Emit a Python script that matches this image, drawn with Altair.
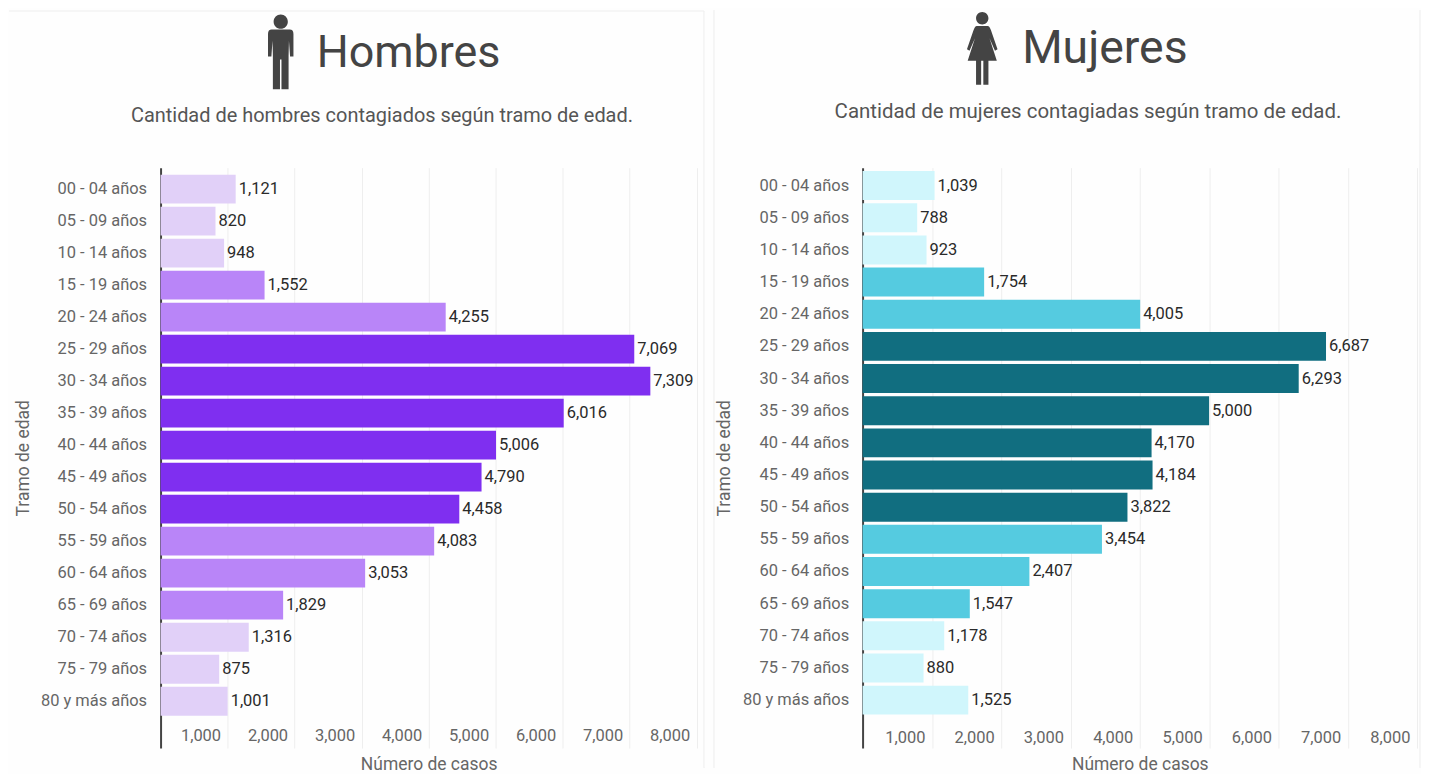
import altair as alt
import pandas as pd

grupos = ["00 - 04 años", "05 - 09 años", "10 - 14 años", "15 - 19 años", "20 - 24 años",
          "25 - 29 años", "30 - 34 años", "35 - 39 años", "40 - 44 años", "45 - 49 años",
          "50 - 54 años", "55 - 59 años", "60 - 64 años", "65 - 69 años", "70 - 74 años",
          "75 - 79 años", "80 y más años"]
hombres = [1121, 820, 948, 1552, 4255, 7069, 7309, 6016, 5006, 4790, 4458, 4083, 3053, 1829, 1316, 875, 1001]
mujeres = [1039, 788, 923, 1754, 4005, 6687, 6293, 5000, 4170, 4184, 3822, 3454, 2407, 1547, 1178, 880, 1525]
tramos = ["bajo", "bajo", "bajo", "medio", "medio", "alto", "alto", "alto", "alto", "alto", "alto",
          "medio", "medio", "medio", "bajo", "bajo", "bajo"]
xticks = [1000, 2000, 3000, 4000, 5000, 6000, 7000, 8000]

MAN = ("M-0.19 -0.81A0.19 0.19 0 1 1 0.19 -0.81A0.19 0.19 0 1 1 -0.19 -0.81Z"
       "M-0.24 -0.6L0.24 -0.6Q0.34 -0.6 0.34 -0.48L0.34 0.12L0.25 0.12L0.22 -0.3L0.21 0.1L0.21 1L0.02 1L0.02 0.2"
       "L-0.02 0.2L-0.02 1L-0.21 1L-0.21 0.1L-0.22 -0.3L-0.25 0.12L-0.34 0.12L-0.34 -0.48Q-0.34 -0.6 -0.24 -0.6Z")
WOMAN = ("M-0.17 -0.83A0.17 0.17 0 1 1 0.17 -0.83A0.17 0.17 0 1 1 -0.17 -0.83Z"
         "M-0.15 -0.62L0.15 -0.62Q0.2 -0.62 0.24 -0.5L0.42 0.02L0.35 0.06L0.2 -0.28L0.4 0.34L0.17 0.34L0.17 1L0.03 1L0.03 0.34"
         "L-0.03 0.34L-0.03 1L-0.17 1L-0.17 0.34L-0.4 0.34L-0.2 -0.28L-0.35 0.06L-0.42 0.02L-0.24 -0.5Q-0.2 -0.62 -0.15 -0.62Z")

FONT = "Roboto"
one = pd.DataFrame({"k": [0]})
EDGE = "#eeeeee"


def panel(values, colors, w, h, step, align, left, right, title, title_x, title_size, sub, sub_x, sub_size, icon, icon_x,
          icon_y, icon_size, title_y, sub_y, rect_top, edges, ytitle_pad, xlabel_pad):
    df = pd.DataFrame({"grupo": grupos, "casos": values, "tramo": tramos})
    domain = grupos + [""]
    yscale = alt.Scale(domain=domain, paddingInner=0.1, paddingOuter=(h / step - 17.9) / 2, align=align)
    xscale = alt.Scale(domain=[0, 8000], nice=False)

    frame = alt.Chart(one).mark_rect(fillOpacity=0, strokeOpacity=0).encode(
        x=alt.value(left), x2=alt.value(right), y=alt.value(rect_top), y2=alt.value(h + 20))

    yaxis = alt.Axis(title="Tramo de edad", labelFont=FONT, labelFontSize=16.5, labelColor="#666666",
                     titleFont=FONT, titleFontSize=17.5, titleColor="#666666", titleFontWeight="normal",
                     ticks=False, labelPadding=14, domainColor="#444444", domainWidth=2,
                     grid=False, titlePadding=ytitle_pad)
    xaxis = alt.Axis(values=xticks, title="Número de casos", format=",d", labelExpr="format(datum.value, ',d')",
                     labelFont=FONT, labelFontSize=16.5,
                     labelColor="#666666", titleFont=FONT, titleFontSize=17.5, titleColor="#666666",
                     titleFontWeight="normal", ticks=False, domain=False, gridColor="#eeeeee", gridWidth=1,
                     labelAlign="right", labelOffset=-7, labelPadding=xlabel_pad, titlePadding=8,
                     labelBaseline="middle", labelFlush=False, labelOverlap=False)
    bars = alt.Chart(df).mark_bar(clip=False).encode(
        y=alt.Y("grupo:N", sort=domain, scale=yscale, axis=yaxis),
        x=alt.X("casos:Q", scale=xscale, axis=xaxis),
        color=alt.Color("tramo:N", scale=alt.Scale(domain=["bajo", "medio", "alto"], range=colors), legend=None),
    )
    labels = alt.Chart(df).mark_text(align="left", baseline="middle", dx=3, font=FONT, fontSize=16.5,
                                     color="#2a2a2a").encode(
        y=alt.Y("grupo:N", sort=domain, scale=yscale, axis=yaxis),
        x=alt.X("casos:Q", scale=xscale, axis=xaxis),
        text=alt.Text("casos:Q", format=","),
    )
    ic = alt.Chart(one).mark_point(shape=icon, filled=True, fill="#444444", opacity=1, size=icon_size).encode(
        x=alt.value(icon_x), y=alt.value(icon_y))
    tt = alt.Chart(one).mark_text(align="left", baseline="middle", font=FONT, fontSize=title_size, color="#444444",
                                  text=title).encode(x=alt.value(title_x), y=alt.value(title_y))
    st = alt.Chart(one).mark_text(align="center", baseline="middle", font=FONT, fontSize=sub_size, color="#555555",
                                  text=sub).encode(x=alt.value(sub_x), y=alt.value(sub_y))
    lines = [alt.Chart(one).mark_rule(color=EDGE, strokeWidth=1).encode(
        x=alt.value(a), x2=alt.value(b), y=alt.value(c), y2=alt.value(d)) for a, b, c, d in edges]
    return alt.layer(frame, *lines, bars, labels, ic, tt, st).properties(width=w, height=h)


izq = panel(hombres, ["#E1D0F8", "#B985F8", "#7F2FF0"], 537.6, 582, 32.1, 0.955, -152, 545,
            "Hombres", 156.5, 45, "Cantidad de hombres contagiados según tramo de edad.", 222, 20,
            MAN, 120.5, -116, 5625, -115, -52, -157,
            [(-152, 545, -157, -157), (545, 545, -157, 602)], 8, -13)
der = panel(mujeres, ["#D0F6FC", "#55CBE0", "#116E80"], 556, 582, 32.25, 0.74, -149, 559,
            "Mujeres", 160, 46.5, "Cantidad de mujeres contagiadas según tramo de edad.", 226, 20.5,
            WOMAN, 120, -119.5, 5329, -119, -56, -158,
            [(-149, -149, -158, 602), (559, 559, -158, 602)], 9, -11)

chart = (alt.hconcat(izq, der, spacing=8)
         .resolve_scale(color="independent")
         .properties(padding=0, background="#fefefe")
         .configure_view(stroke=None))
chart.save("out.html", embed_options={"renderer": "svg", "actions": False})
